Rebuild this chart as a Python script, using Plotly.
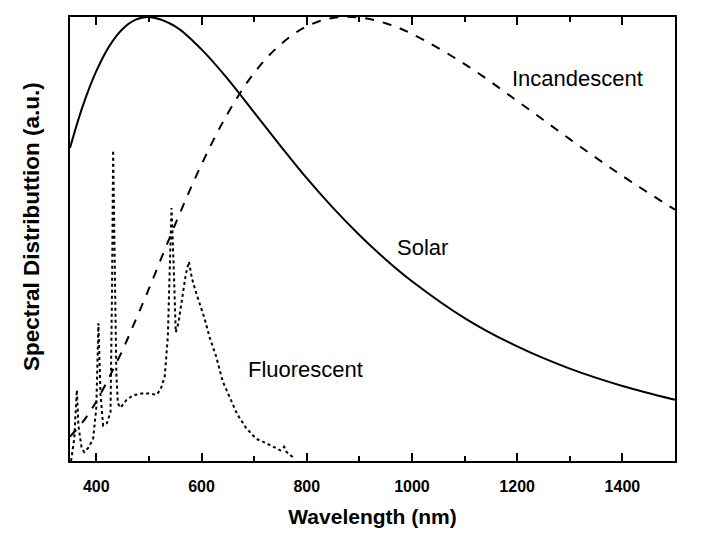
import plotly.graph_objects as go

# Wavelength grid (nm) for the two smooth curves
wl_smooth = [350, 375, 400, 425, 450, 475, 500, 550, 600, 650, 700, 750, 800,
             850, 900, 950, 1000, 1100, 1200, 1300, 1400, 1500]
solar = [0.705, 0.802, 0.878, 0.935, 0.973, 0.994, 1.0, 0.979, 0.927, 0.860,
         0.785, 0.710, 0.637, 0.570, 0.509, 0.454, 0.405, 0.322, 0.258, 0.208,
         0.169, 0.138]
incandescent = [0.055, 0.089, 0.134, 0.190, 0.250, 0.318, 0.388, 0.533, 0.668,
                0.783, 0.874, 0.938, 0.979, 0.998, 0.999, 0.986, 0.962, 0.894,
                0.811, 0.725, 0.642, 0.566]

wl_fluor = [352, 358, 363, 366, 372, 377, 385, 394, 400, 404, 408, 413, 420, 427,
            430, 432, 435, 438, 441, 446, 457, 470, 486, 500, 514, 522, 530, 536,
            540, 543, 547, 551, 556, 562, 570, 576, 582, 590, 598, 606, 615, 628,
            640, 653, 668, 685, 704, 723, 740, 750, 757, 762, 770, 778]
fluorescent = [0.0, 0.05, 0.16, 0.08, 0.03, 0.02, 0.03, 0.05, 0.12, 0.31, 0.15,
               0.08, 0.085, 0.11, 0.40, 0.70, 0.45, 0.20, 0.13, 0.12, 0.137,
               0.148, 0.152, 0.152, 0.149, 0.16, 0.19, 0.28, 0.45, 0.57, 0.44,
               0.29, 0.31, 0.356, 0.42, 0.449, 0.41, 0.378, 0.35, 0.32, 0.28,
               0.235, 0.18, 0.145, 0.105, 0.074, 0.05, 0.04, 0.03, 0.024, 0.032,
               0.02, 0.012, 0.005]

labels = ["Incandescent", "Solar", "Fluorescent"]
label_x = [1315, 1020, 797]
label_y = [0.862, 0.48, 0.205]

fig = go.Figure()
fig.add_trace(go.Scatter(x=wl_smooth, y=solar, mode="lines", name="Solar",
                         line=dict(color="black", width=2, shape="spline")))
fig.add_trace(go.Scatter(x=wl_smooth, y=incandescent, mode="lines", name="Incandescent",
                         line=dict(color="black", width=2, dash="dash", shape="spline")))
fig.add_trace(go.Scatter(x=wl_fluor, y=fluorescent, mode="lines", name="Fluorescent",
                         line=dict(color="black", width=2, dash="dot")))

for t, x, y in zip(labels, label_x, label_y):
    fig.add_annotation(x=x, y=y, text=t, showarrow=False,
                       font=dict(family="Liberation Sans, Arial", size=22, color="black"))

# y-axis title (as in the original figure)
fig.add_annotation(x=-0.0645, y=0.529, xref="paper", yref="paper",
                   text="Spectral Distributtion (a.u.)", textangle=-90,
                   showarrow=False, xanchor="center", yanchor="middle",
                   font=dict(family="Liberation Sans, Arial", size=22.5,
                             weight="bold", color="black"))

fig.update_layout(
    width=687, height=523,
    margin=dict(l=62, r=20, t=9, b=70),
    paper_bgcolor="white", plot_bgcolor="white",
    showlegend=False,
    font=dict(family="Liberation Sans, Arial", color="black"),
    xaxis=dict(range=[350, 1500], tickvals=[400, 600, 800, 1000, 1200, 1400],
               ticks="inside", ticklen=8, tickwidth=1.5, tickcolor="black",
               ticklabelstandoff=10,
               minor=dict(dtick=100, tick0=0, ticks="inside", ticklen=5,
                          tickwidth=1.5, tickcolor="black"),
               showline=True, linewidth=2, linecolor="black", mirror="ticks",
               showgrid=False, zeroline=False, automargin=False,
               tickfont=dict(size=16, weight="bold"),
               title=dict(text="Wavelength (nm)", standoff=15,
                          font=dict(size=21, weight="bold"))),
    yaxis=dict(range=[0, 1.0], showticklabels=False, ticks="",
               showline=True, linewidth=2, linecolor="black", mirror=True,
               showgrid=False, zeroline=False, automargin=False),
)

fig.write_html("out.html")
